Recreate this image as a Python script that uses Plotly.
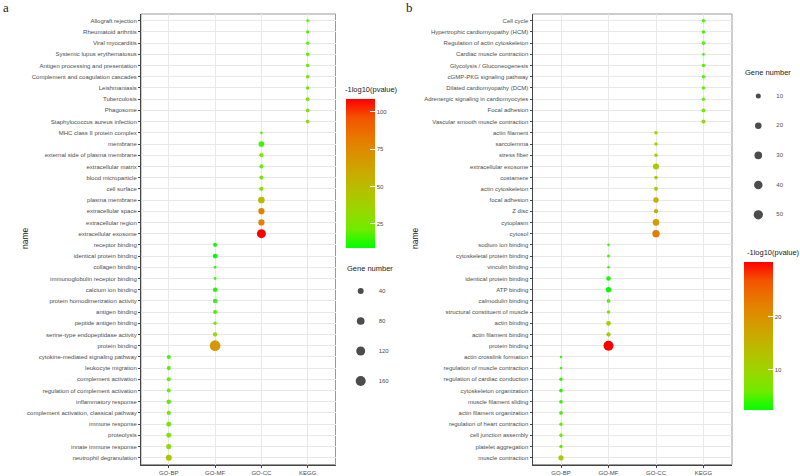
import plotly.graph_objects as go
import math

# ---------------- DATA ----------------
groups = ["GO-BP", "GO-MF", "GO-CC", "KEGG"]

# Panel a (terms listed top -> bottom)
a_kegg_terms = ["Allograft rejection", "Rheumatoid arthritis", "Viral myocarditis",
                "Systemic lupus erythematosus", "Antigen processing and presentation",
                "Complement and coagulation cascades", "Leishmaniasis", "Tuberculosis",
                "Phagosome", "Staphylococcus aureus infection"]
a_kegg_genes = [10, 11, 11, 12, 12, 12, 12, 13, 14, 13]
a_kegg_logp = [18, 19, 19, 20, 21, 22, 22, 24, 30, 33]

a_cc_terms = ["MHC class II protein complex", "membrane", "external side of plasma membrane",
              "extracellular matrix", "blood microparticle", "cell surface", "plasma membrane",
              "extracellular space", "extracellular region", "extracellular exosome"]
a_cc_genes = [10, 35, 16, 15, 15, 17, 54, 44, 44, 122]
a_cc_logp = [20, 16, 22, 22, 24, 30, 51, 77, 79, 108.9]

a_mf_terms = ["receptor binding", "identical protein binding", "collagen binding",
              "immunoglobulin receptor binding", "calcium ion binding",
              "protein homodimerization activity", "antigen binding", "peptide antigen binding",
              "serine-type endopeptidase activity", "protein binding"]
a_mf_genes = [15, 21, 10, 10, 18, 18, 14, 11, 17, 190]
a_mf_logp = [11, 8.9, 14, 15, 12, 13, 16, 22, 32, 69]

a_bp_terms = ["cytokine-mediated signaling pathway", "leukocyte migration", "complement activation",
              "regulation of complement activation", "inflammatory response",
              "complement activation, classical pathway", "immune response", "proteolysis",
              "innate immune response", "neutrophil degranulation"]
a_bp_genes = [15, 15, 15, 14, 20, 17, 24, 24, 27, 40]
a_bp_logp = [17, 19, 20, 20, 19, 21, 24, 27, 30, 44]

a_color_ticks = [25, 50, 75, 100]
a_size_breaks = [40, 80, 120, 160]

# Panel b
b_kegg_terms = ["Cell cycle", "Hypertrophic cardiomyopathy (HCM)", "Regulation of actin cytoskeleton",
                "Cardiac muscle contraction", "Glycolysis / Gluconeogenesis",
                "cGMP-PKG signaling pathway", "Dilated cardiomyopathy (DCM)",
                "Adrenergic signaling in cardiomyocytes", "Focal adhesion",
                "Vascular smooth muscle contraction"]
b_kegg_genes = [5, 5, 5, 4, 5, 5, 5, 5, 6, 6]
b_kegg_logp = [5, 4.5, 5, 4, 5, 5, 5.5, 5.5, 6.5, 8.5]

b_cc_terms = ["actin filament", "sarcolemma", "stress fiber", "extracellular exosome", "costamere",
              "actin cytoskeleton", "focal adhesion", "Z disc", "cytoplasm", "cytosol"]
b_cc_genes = [5, 5, 5, 16, 5, 6, 12, 7, 21, 27]
b_cc_logp = [9.3, 9.3, 9.5, 11.3, 11, 12, 15.8, 16.5, 18.3, 22.8]

b_mf_terms = ["sodium ion binding", "cytoskeletal protein binding", "vinculin binding",
              "identical protein binding", "ATP binding", "calmodulin binding",
              "structural constituent of muscle", "actin binding", "actin filament binding",
              "protein binding"]
b_mf_genes = [4, 4.2, 4, 8.5, 11.5, 5.3, 5, 8.5, 7, 60]
b_mf_logp = [4, 5, 4, 3, 2.3, 5, 7, 10.5, 11, 30.4]

b_bp_terms = ["actin crosslink formation", "regulation of muscle contraction",
              "regulation of cardiac conduction", "cytoskeleton organization",
              "muscle filament sliding", "actin filament organization",
              "regulation of heart contraction", "cell junction assembly",
              "platelet aggregation", "muscle contraction"]
b_bp_genes = [4, 4, 5, 5.3, 5.3, 5.3, 5, 5, 5, 11.5]
b_bp_logp = [4.5, 5, 4, 3.5, 4, 4.5, 5.5, 5.5, 6.5, 12]

b_color_ticks = [10, 20]
b_size_breaks = [10, 20, 30, 40, 50]

# ---------------- STYLE ----------------
W, H = 800, 476
FONT = "Liberation Sans, Arial, sans-serif"
TICKC = "#4d4d4d"

colorscale = [
    [0.0, "rgb(0,255,0)"], [0.125, "rgb(112,235,0)"], [0.25, "rgb(152,215,0)"],
    [0.375, "rgb(179,194,0)"], [0.5, "rgb(201,171,0)"], [0.625, "rgb(218,146,0)"],
    [0.75, "rgb(232,118,0)"], [0.875, "rgb(244,83,0)"], [1.0, "rgb(255,0,0)"],
]


def px_x(x):
    return x / W


def px_y(y):
    return 1 - y / H


def make_size_scale(values, dmin, dmax):
    lo, hi = min(values), max(values)

    def f(g):
        return dmin + (dmax - dmin) * math.sqrt(max(g - lo, 0) / (hi - lo))
    return f


def build_panel(kegg_t, kegg_g, kegg_p, cc_t, cc_g, cc_p, mf_t, mf_g, mf_p, bp_t, bp_g, bp_p):
    terms = kegg_t + cc_t + mf_t + bp_t
    grp = ["KEGG"] * len(kegg_t) + ["GO-CC"] * len(cc_t) + ["GO-MF"] * len(mf_t) + ["GO-BP"] * len(bp_t)
    genes = kegg_g + cc_g + mf_g + bp_g
    logp = kegg_p + cc_p + mf_p + bp_p
    return terms, grp, genes, logp


a_terms, a_grp, a_genes, a_logp = build_panel(a_kegg_terms, a_kegg_genes, a_kegg_logp,
                                              a_cc_terms, a_cc_genes, a_cc_logp,
                                              a_mf_terms, a_mf_genes, a_mf_logp,
                                              a_bp_terms, a_bp_genes, a_bp_logp)
b_terms, b_grp, b_genes, b_logp = build_panel(b_kegg_terms, b_kegg_genes, b_kegg_logp,
                                              b_cc_terms, b_cc_genes, b_cc_logp,
                                              b_mf_terms, b_mf_genes, b_mf_logp,
                                              b_bp_terms, b_bp_genes, b_bp_logp)

size_a = make_size_scale(a_genes, 2.76, 10.7)
size_b = make_size_scale(b_genes, 2.57, 10.0)

fig = go.Figure()


def colorbar(x0, ytop, length, ticks):
    return dict(x=px_x(x0), xanchor="left", y=px_y(ytop), yanchor="top",
                len=length, lenmode="pixels", thickness=29, thicknessmode="pixels",
                outlinewidth=0, xpad=0, ypad=0, tickvals=ticks, ticks="inside",
                ticklen=5, tickcolor="white", tickwidth=1, tickprefix=" ",
                tickfont=dict(size=6, color=TICKC, family=FONT))


fig.add_trace(go.Scatter(
    x=a_grp, y=a_terms, mode="markers", xaxis="x", yaxis="y",
    marker=dict(size=[size_a(g) for g in a_genes], color=a_logp, colorscale=colorscale,
                line=dict(width=0), opacity=1, showscale=True,
                colorbar=colorbar(346, 98.7, 149, a_color_ticks)),
    showlegend=False, hoverinfo="skip"))

fig.add_trace(go.Scatter(
    x=b_grp, y=b_terms, mode="markers", xaxis="x2", yaxis="y2",
    marker=dict(size=[size_b(g) for g in b_genes], color=b_logp, colorscale=colorscale,
                line=dict(width=0), opacity=1, showscale=True,
                colorbar=colorbar(743.7, 262, 148, b_color_ticks)),
    showlegend=False, hoverinfo="skip"))

# Size legends (drawn in their own small axes)
fig.add_trace(go.Scatter(
    x=[0] * len(a_size_breaks), y=list(range(len(a_size_breaks))), mode="markers",
    xaxis="x3", yaxis="y3",
    marker=dict(size=[size_a(g) for g in a_size_breaks], color="black", line=dict(width=0)),
    showlegend=False, hoverinfo="skip"))
fig.add_trace(go.Scatter(
    x=[1] * len(a_size_breaks), y=list(range(len(a_size_breaks))), mode="text",
    xaxis="x3", yaxis="y3", text=[str(v) for v in a_size_breaks], textposition="middle right",
    textfont=dict(size=6, color=TICKC, family=FONT), showlegend=False, hoverinfo="skip"))

fig.add_trace(go.Scatter(
    x=[0] * len(b_size_breaks), y=list(range(len(b_size_breaks))), mode="markers",
    xaxis="x4", yaxis="y4",
    marker=dict(size=[size_b(g) for g in b_size_breaks], color="black", line=dict(width=0)),
    showlegend=False, hoverinfo="skip"))
fig.add_trace(go.Scatter(
    x=[1] * len(b_size_breaks), y=list(range(len(b_size_breaks))), mode="text",
    xaxis="x4", yaxis="y4", text=[str(v) for v in b_size_breaks], textposition="middle right",
    textfont=dict(size=6, color=TICKC, family=FONT), showlegend=False, hoverinfo="skip"))

common_x = dict(type="category", categoryorder="array", categoryarray=groups,
                range=[-0.6, len(groups) - 0.4], showgrid=True, gridcolor="#e8e8e8",
                gridwidth=1, zeroline=False, showline=True, linecolor="#444", linewidth=1,
                ticks="outside", ticklen=2, tickcolor="#444", tickwidth=1,
                tickfont=dict(size=6, color=TICKC, family=FONT), fixedrange=True)


def common_y(terms):
    return dict(type="category", categoryorder="array", categoryarray=terms,
                range=[len(terms) - 0.4, -0.6], showgrid=True, gridcolor="#e8e8e8",
                gridwidth=1, zeroline=False, showline=True, linecolor="#444", linewidth=1,
                ticks="outside", ticklen=2, tickcolor="#444", tickwidth=1,
                tickfont=dict(size=6, color=TICKC, family=FONT), fixedrange=True)


ya = [px_y(464.5), px_y(14)]
hidden = dict(visible=False, showgrid=False, zeroline=False, fixedrange=True)

fig.update_layout(
    width=W, height=H, margin=dict(l=0, r=0, t=0, b=0, autoexpand=False),
    paper_bgcolor="white", plot_bgcolor="white",
    font=dict(family=FONT),
    xaxis=dict(common_x, domain=[px_x(141), px_x(335.5)], anchor="y"),
    yaxis=dict(common_y(a_terms), domain=ya, anchor="x"),
    xaxis2=dict(common_x, domain=[px_x(532.5), px_x(732)], anchor="y2"),
    yaxis2=dict(common_y(b_terms), domain=ya, anchor="x2"),
    xaxis3=dict(hidden, domain=[px_x(340), px_x(400)], range=[-(360.7 - 340) / 18, (400 - 360.7) / 18], anchor="y3"),
    yaxis3=dict(hidden, domain=[px_y(400), px_y(270)], range=[(400 - 291) / 30, -(291 - 270) / 30], anchor="x3"),
    xaxis4=dict(hidden, domain=[px_x(740), px_x(800)], range=[-(758.3 - 740) / 18, (800 - 758.3) / 18], anchor="y4"),
    yaxis4=dict(hidden, domain=[px_y(230), px_y(80)], range=[(230 - 96) / 29.7, -(96 - 80) / 29.7], anchor="x4"),
    showlegend=False,
)

# panel borders (top / right lighter)
for x0, x1 in [(141, 335.5), (532.5, 732)]:
    fig.add_shape(type="rect", xref="paper", yref="paper", x0=px_x(x0), x1=px_x(x1),
                  y0=ya[0], y1=ya[1], line=dict(color="#9a9a9a", width=1), layer="below")

annos = [
    dict(text="a", x=px_x(1), y=px_y(7.5), xanchor="left", font=dict(family="Liberation Serif, serif", size=13, color="#222")),
    dict(text="b", x=px_x(404), y=px_y(7.5), xanchor="left", font=dict(family="Liberation Serif, serif", size=13, color="#222")),
    dict(text="name", x=px_x(18), y=px_y(238), textangle=-90, font=dict(size=8.5, color="#222", family=FONT)),
    dict(text="name", x=px_x(415), y=px_y(238), textangle=-90, font=dict(size=8.5, color="#222", family=FONT)),
    dict(text="-1log10(pvalue)", x=px_x(343), y=px_y(89), xanchor="left", font=dict(size=7.5, color="#222", family=FONT)),
    dict(text="-1log10(pvalue)", x=px_x(745), y=px_y(252), xanchor="left", font=dict(size=7.5, color="#222", family=FONT)),
    dict(text="Gene number", x=px_x(345), y=px_y(268), xanchor="left", font=dict(size=7.5, color="#222", family=FONT)),
    dict(text="Gene number", x=px_x(743), y=px_y(72), xanchor="left", font=dict(size=7.5, color="#222", family=FONT)),
]
for a in annos:
    a.update(xref="paper", yref="paper", showarrow=False, yanchor="middle")
    fig.add_annotation(**a)

fig.write_html("out.html", config={"displayModeBar": False},
               post_script="document.body.style.margin='0';document.body.style.padding='0';")
